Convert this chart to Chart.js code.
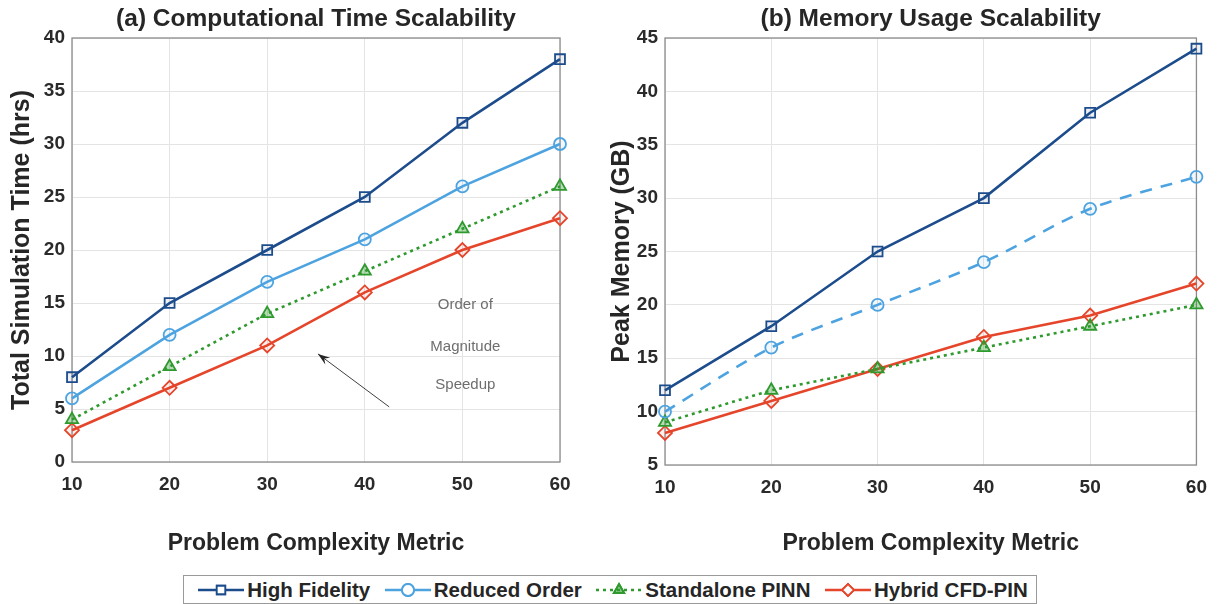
<!DOCTYPE html>
<html><head><meta charset="utf-8">
<script src="https://cdn.jsdelivr.net/npm/chart.js@4.4.1/dist/chart.umd.min.js"></script>
<style>
html,body{margin:0;padding:0;background:#fff;width:1218px;height:604px;overflow:hidden;font-family:"Liberation Sans",Arial,sans-serif;}
#c1wrap{position:absolute;left:0;top:0;width:600px;height:572px;}
#c2wrap{position:absolute;left:600px;top:0;width:618px;height:572px;}
#legend{position:absolute;left:183px;top:575px;width:854px;height:29px;border:1px solid #9a9a9a;box-sizing:border-box;display:flex;align-items:center;justify-content:space-around;font-weight:bold;font-size:20.5px;color:#262626;padding:0 2px 0 6px;}
#legend span.item{display:flex;align-items:center;gap:1px;}
</style></head>
<body>
<div id="c1wrap"><canvas id="c1"></canvas></div>
<div id="c2wrap"><canvas id="c2"></canvas></div>
<div id="legend"></div>
<script>
// ---- data ----
const complexity = [10, 20, 30, 40, 50, 60];
const seriesNames = ["High Fidelity", "Reduced Order", "Standalone PINN", "Hybrid CFD-PIN"];
const timeHighFidelity = [8, 15, 20, 25, 32, 38];
const timeReducedOrder = [6, 12, 17, 21, 26, 30];
const timePINN = [4, 9, 14, 18, 22, 26];
const timeHybrid = [3, 7, 11, 16, 20, 23];
const memHighFidelity = [12, 18, 25, 30, 38, 44];
const memReducedOrder = [10, 16, 20, 24, 29, 32];
const memPINN = [9, 12, 14, 16, 18, 20];
const memHybrid = [8, 11, 14, 17, 19, 22];
const timeTicks = [0, 5, 10, 15, 20, 25, 30, 35, 40];
const memTicks = [5, 10, 15, 20, 25, 30, 35, 40, 45];
const annotationLines = ["Order of", "Magnitude", "Speedup"];

// ---- styles ----
const colors = ["#1c4c8c", "#4da3e0", "#2e9a2e", "#e5452a"];
const fills = ["rgba(28,76,140,0.08)", "rgba(77,163,224,0.08)", "rgba(46,154,46,0.35)", "rgba(229,69,42,0.08)"];
const pstyles = ["rect", "circle", "triangle", "rectRot"];
const pradius = [7, 6, 7, 7];
const FONT = '"Liberation Sans", Arial, sans-serif';

function pts(arr){ return complexity.map((x,i)=>({x:x, y:arr[i]})); }

function makeDatasets(arrs, dashes, tensions){
  return arrs.map((a,i)=>({
    label: seriesNames[i],
    data: pts(a),
    borderColor: colors[i],
    backgroundColor: fills[i],
    pointBorderColor: colors[i],
    pointBackgroundColor: fills[i],
    pointStyle: pstyles[i],
    pointRadius: pradius[i],
    pointBorderWidth: 1.8,
    borderWidth: 2.6,
    borderDash: dashes[i],
    tension: tensions[i],
    clip: false,
    fill: false
  }));
}

const boxPlugin = {
  id: 'box',
  beforeDatasetsDraw(chart){
    const {ctx, chartArea:a} = chart;
    ctx.save();
    ctx.strokeStyle = '#8c8c8c';
    ctx.lineWidth = 1.3;
    ctx.strokeRect(a.left, a.top, a.right-a.left, a.bottom-a.top);
    ctx.restore();
  }
};

// plot title centred over the plot area (as in the reference)
const plotTitlePlugin = {
  id: 'plotTitle',
  afterDraw(chart, args, opts){
    const {ctx, chartArea:a} = chart;
    ctx.save();
    ctx.fillStyle = '#262626';
    ctx.font = 'bold 24.5px ' + FONT;
    ctx.textAlign = 'center';
    ctx.textBaseline = 'middle';
    ctx.fillText(opts.text, (a.left + a.right)/2, 19);
    ctx.restore();
  }
};

const annotPlugin = {
  id: 'annot',
  afterDatasetsDraw(chart){
    const {ctx, scales:{x, y}} = chart;
    ctx.save();
    ctx.fillStyle = '#6e6e6e';
    ctx.font = '15px ' + FONT;
    ctx.textAlign = 'center';
    ctx.textBaseline = 'middle';
    const ys = [14.8, 10.9, 7.3];
    annotationLines.forEach((t,i)=> ctx.fillText(t, x.getPixelForValue(50.3), y.getPixelForValue(ys[i])));
    // arrow
    const x0 = x.getPixelForValue(42.5), y0 = y.getPixelForValue(5.2);
    const x1 = x.getPixelForValue(35.2), y1 = y.getPixelForValue(10.2);
    ctx.strokeStyle = '#404040'; ctx.fillStyle = '#262626'; ctx.lineWidth = 1;
    ctx.beginPath(); ctx.moveTo(x0,y0); ctx.lineTo(x1,y1); ctx.stroke();
    const ang = Math.atan2(y1-y0, x1-x0);
    const L = 13, W = 0.33;
    ctx.beginPath();
    ctx.moveTo(x1,y1);
    ctx.lineTo(x1 - L*Math.cos(ang-W), y1 - L*Math.sin(ang-W));
    ctx.lineTo(x1 - 0.6*L*Math.cos(ang), y1 - 0.6*L*Math.sin(ang));
    ctx.lineTo(x1 - L*Math.cos(ang+W), y1 - L*Math.sin(ang+W));
    ctx.closePath(); ctx.fill();
    ctx.restore();
  }
};

function makeOptions(title, ytitle, yticks, cfg){
  return {
    responsive: true,
    maintainAspectRatio: false,
    animation: false,
    layout: {padding: {left:0, right:cfg.padRight, top:cfg.top, bottom:0}},
    plugins: {
      legend: {display:false},
      tooltip: {enabled:false},
      title: {display:false},
      plotTitle: {text:title}
    },
    scales: {
      x: {type:'linear', min:10, max:60,
        afterBuildTicks: ax => { ax.ticks = complexity.map(v=>({value:v})); },
        afterFit: s => { s.height = cfg.xHeight; },
        grid:{color:'#e4e4e4', lineWidth:1, drawTicks:false},
        border:{display:false},
        ticks:{color:'#2a2a2a', font:{family:FONT, size:19, weight:'bold'}, padding:11, maxRotation:0},
        title:{display:true, text:'Problem Complexity Metric', color:'#262626',
          font:{family:FONT, size:23, weight:'bold'}, padding:{top:0, bottom:15}}
      },
      y: {type:'linear', min:yticks[0], max:yticks[yticks.length-1],
        afterBuildTicks: ax => { ax.ticks = yticks.map(v=>({value:v})); },
        afterFit: s => { s.width = cfg.yWidth; },
        grid:{color:'#e4e4e4', lineWidth:1, drawTicks:false},
        border:{display:false},
        ticks:{color:'#2a2a2a', font:{family:FONT, size:19, weight:'bold'}, padding:7},
        title:{display:true, text:ytitle, color:'#262626',
          font:{family:FONT, size:25, weight:'bold'}, padding:{top:cfg.yTitleOff, bottom:0}}
      }
    }
  };
}

new Chart(document.getElementById('c1'), {
  type:'line',
  data:{datasets: makeDatasets([timeHighFidelity, timeReducedOrder, timePINN, timeHybrid],
    [[], [], [3,4], []], [0,0,0,0])},
  options: makeOptions('(a) Computational Time Scalability', 'Total Simulation Time (hrs)', timeTicks,
    {padRight:40, top:38, xHeight:110, yWidth:72, yTitleOff:7.5}),
  plugins:[boxPlugin, annotPlugin, plotTitlePlugin]
});

new Chart(document.getElementById('c2'), {
  type:'line',
  data:{datasets: makeDatasets([memHighFidelity, memReducedOrder, memPINN, memHybrid],
    [[], [12,9], [3,4], []], [0,0.3,0,0])},
  options: makeOptions('(b) Memory Usage Scalability', 'Peak Memory (GB)', memTicks,
    {padRight:21, top:38, xHeight:107, yWidth:65, yTitleOff:7.5}),
  plugins:[boxPlugin, plotTitlePlugin]
});

// ---- legend ----
const leg = document.getElementById('legend');
seriesNames.forEach((n,i)=>{
  const item = document.createElement('span'); item.className='item';
  const c = document.createElement('canvas'); c.width=50; c.height=22; c.style.width='50px'; c.style.height='22px';
  const g = c.getContext('2d');
  g.strokeStyle = colors[i]; g.lineWidth = 2.6;
  if(i===2) g.setLineDash([3,4]);
  g.beginPath(); g.moveTo(2,11); g.lineTo(48,11); g.stroke(); g.setLineDash([]);
  g.lineWidth = 1.8; g.fillStyle = i===2 ? fills[i] : '#fff';
  Chart.helpers.drawPoint(g, {pointStyle:pstyles[i], radius:6, borderWidth:1.8}, 25, 11);
  g.fill(); g.stroke();
  item.appendChild(c);
  const t = document.createElement('span'); t.textContent = n; item.appendChild(t);
  leg.appendChild(item);
});
</script>
</body></html>
